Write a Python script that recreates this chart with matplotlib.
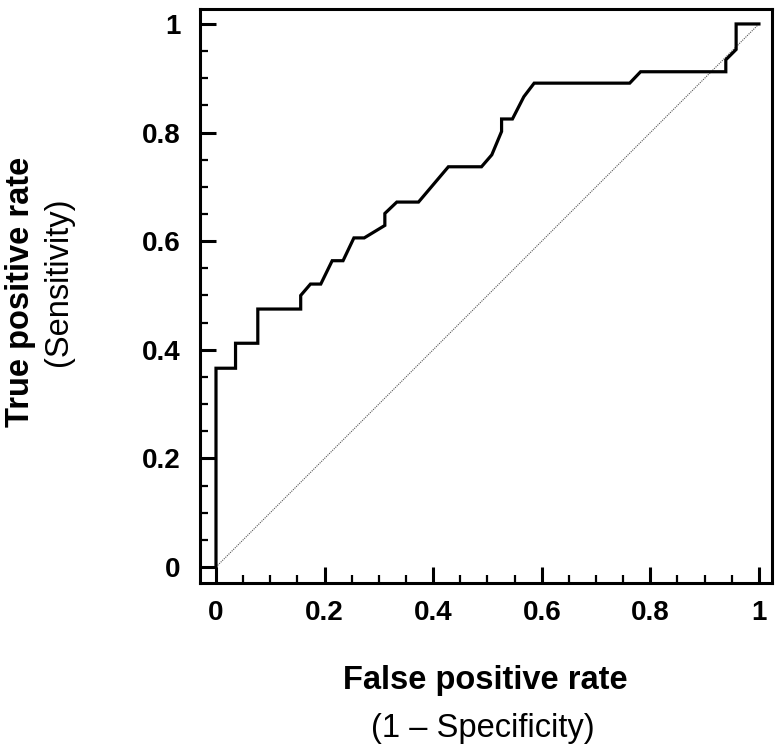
import matplotlib
matplotlib.use("Agg")
import matplotlib.pyplot as plt
from matplotlib.ticker import MultipleLocator, FuncFormatter

plt.rcParams["font.family"] = ["Liberation Sans", "DejaVu Sans"]

# ROC curve points
fpr = [0, 0, 0.036, 0.036, 0.077, 0.077, 0.156, 0.156, 0.174, 0.193,
       0.214, 0.234, 0.254, 0.273, 0.311, 0.311, 0.333, 0.373, 0.428, 0.489,
       0.508, 0.526, 0.526, 0.546, 0.567, 0.586, 0.762, 0.782, 0.939, 0.939,
       0.958, 0.958, 1.0]
tpr = [0, 0.366, 0.366, 0.412, 0.412, 0.475, 0.475, 0.500, 0.521, 0.521,
       0.564, 0.564, 0.606, 0.606, 0.629, 0.651, 0.672, 0.672, 0.737, 0.737,
       0.759, 0.802, 0.825, 0.825, 0.866, 0.891, 0.891, 0.912, 0.912, 0.934,
       0.953, 1.0, 1.0]
chance = [0, 1]

fig = plt.figure(figsize=(7.83, 7.54), dpi=100)
ax = fig.add_axes([0.2554, 0.2268, 0.7305, 0.7613])

ax.plot(chance, chance, color="#555555", lw=0.8, linestyle=(0, (1, 1)))
ax.plot(fpr, tpr, color="black", lw=2.3, solid_joinstyle="miter")

ax.set_xlim(-0.0295, 1.024)
ax.set_ylim(-0.0295, 1.0276)

for s in ax.spines.values():
    s.set_linewidth(2.2)

fmt = FuncFormatter(lambda v, p: "%g" % round(v, 2))
for axis in (ax.xaxis, ax.yaxis):
    axis.set_major_locator(MultipleLocator(0.2))
    axis.set_minor_locator(MultipleLocator(0.05))
    axis.set_major_formatter(fmt)

ax.tick_params(which="major", direction="in", length=11.5, width=2.2,
               labelsize=20, top=False, right=False)
ax.tick_params(which="minor", direction="in", length=6, width=1.6,
               top=False, right=False)
ax.tick_params(axis="y", which="major", pad=14)
ax.tick_params(axis="x", which="major", pad=12)
for lab in ax.get_xticklabels() + ax.get_yticklabels():
    lab.set_fontweight("bold")

fig.text(0.620, 1 - 680 / 754, "False positive rate", ha="center", va="center",
         fontsize=23.5, fontweight="bold")
fig.text(0.617, 1 - 729 / 754, "(1 \u2013 Specificity)", ha="center", va="center",
         fontsize=23.5)
fig.text(21 / 783, 1 - 292 / 754, "True positive rate", ha="center", va="center",
         fontsize=23.5, fontweight="bold", rotation=90)
fig.text(58 / 783, 1 - 282 / 754, "(Sensitivity)", ha="center", va="center",
         fontsize=23.5, rotation=90)

fig.savefig("out.png", dpi=100)
